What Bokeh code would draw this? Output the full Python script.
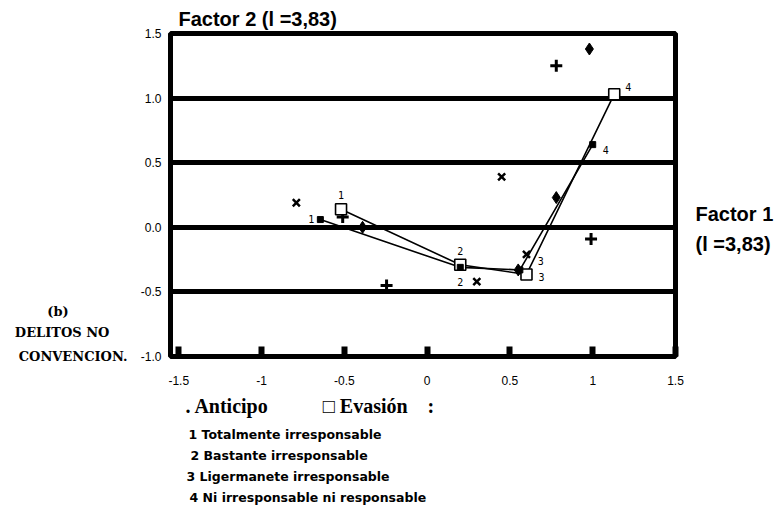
from bokeh.plotting import figure
from bokeh.models import (ColumnDataSource, FixedTicker, Range1d, LinearAxis, Title)
from bokeh.core.properties import value
from bokeh.embed import file_html
from bokeh.resources import INLINE

# ---- data ----
point_labels = ["1", "2", "3", "4"]
evasion_x = [-0.52, 0.20, 0.60, 1.13]
evasion_y = [0.14, -0.29, -0.365, 1.03]
anticipo_x = [-0.645, 0.20, 0.56, 1.00]
anticipo_y = [0.06, -0.31, -0.33, 0.64]
cross_x = [-0.79, 0.45, 0.30, 0.60]
cross_y = [0.19, 0.39, -0.42, -0.21]
plus_x = [0.78, -0.51, -0.245, 0.99]
plus_y = [1.25, 0.08, -0.45, -0.09]
diamond_x = [0.98, 0.78, -0.39, 0.55]
diamond_y = [1.38, 0.23, 0.00, -0.33]
x_ticks = [-1.5, -1.0, -0.5, 0.0, 0.5, 1.0, 1.5]
x_tick_labels = ["-1.5", "-1", "-0.5", "0", "0.5", "1", "1.5"]
y_ticks = [-1.0, -0.5, 0.0, 0.5, 1.0, 1.5]
y_tick_labels = ["-1.0", "-0.5", "0.0", "0.5", "1.0", "1.5"]
grid_values = [-0.5, 0.0, 0.5, 1.0]
title_text = "Factor 2 (l =3,83)"
factor1_lines = ["Factor 1", "(l =3,83)"]
side_lines = ["(b)", "DELITOS NO", "CONVENCION."]
legend_head = [". Anticipo", "\u25a1 Evasi\u00f3n", ":"]
legend_lines = ["1 Totalmente irresponsable",
                "2 Bastante  irresponsable",
                "3  Ligermanete irresponsable",
                "4 Ni irresponsable ni responsable"]

# ---- layout / style ----
ev_dx = [0, 0, 15, 14]
ev_dy = [-14, -14, 3, -7]
an_dx = [-9, 0, 21, 13]
an_dy = [-1, 15, -9, 5]
NB = "\u00a0"

W, H = 784, 508
BL, BR, BT, BB = 170, 109, 33, 152
FB = H - BB
p = figure(width=W, height=H, output_backend="svg", toolbar_location=None,
           x_range=Range1d(-1.55, 1.5), y_range=Range1d(-1.0, 1.5),
           min_border_left=BL, min_border_right=BR,
           min_border_top=BT, min_border_bottom=BB)
p.background_fill_color = "white"
p.border_fill_color = "white"
p.outline_line_color = "black"
p.outline_line_width = 5
# auxiliary range in canvas pixels, used only to place side texts
p.extra_y_ranges = {"px": Range1d(start=FB, end=BT)}

p.title.text = title_text
p.title.align = "left"
p.title.offset = 8
p.title.standoff = 7
p.title.text_font = "Liberation Sans"
p.title.text_font_size = "20px"
p.title.text_font_style = "bold"
p.title.text_color = "black"

p.xgrid.visible = False
p.ygrid.ticker = FixedTicker(ticks=grid_values)
p.ygrid.grid_line_color = "black"
p.ygrid.grid_line_width = 5

xa = p.xaxis[0]
xa.ticker = FixedTicker(ticks=x_ticks)
xa.major_label_overrides = {t: l for t, l in zip(x_ticks, x_tick_labels)}
xa.axis_line_color = None
xa.major_tick_in = 10
xa.major_tick_out = 0
xa.major_tick_line_width = 6
xa.major_tick_line_color = "black"
xa.minor_tick_line_color = None
xa.major_label_standoff = 19
xa.major_label_text_font = "Liberation Sans"
xa.major_label_text_font_size = "12px"
xa.major_label_text_color = "black"

ya = p.yaxis[0]
ya.ticker = FixedTicker(ticks=y_ticks)
ya.major_label_overrides = {t: l for t, l in zip(y_ticks, y_tick_labels)}
ya.axis_line_color = None
ya.major_tick_line_color = None
ya.minor_tick_line_color = None
ya.major_tick_in = 0
ya.major_tick_out = 0
ya.major_label_standoff = 9
ya.major_label_text_font = "Liberation Sans"
ya.major_label_text_font_size = "12px"
ya.major_label_text_color = "black"


def text_axis(ticks, labels, font, size, style, standoff):
    return LinearAxis(y_range_name="px", ticker=FixedTicker(ticks=ticks),
                      major_label_overrides={t: l for t, l in zip(ticks, labels)},
                      axis_line_color=None, major_tick_line_color=None,
                      minor_tick_line_color=None, major_tick_in=0, major_tick_out=0,
                      major_label_standoff=standoff, major_label_text_font=font,
                      major_label_text_font_size=size, major_label_text_font_style=style,
                      major_label_text_color="black")


# Factor 1 on the right
p.add_layout(text_axis([213, 243], factor1_lines, "Liberation Sans", "20px", "bold", 20), "right")
# (b) DELITOS NO CONVENCION. on the left (right-aligned, padded)
side_padded = [side_lines[0] + NB * 13, side_lines[1] + NB * 4, side_lines[2]]
p.add_layout(text_axis([311, 332, FB], side_padded, "DejaVu Serif", "13px", "bold", 10), "left")

ev_src = ColumnDataSource(dict(x=evasion_x, y=evasion_y, t=point_labels, dx=ev_dx, dy=ev_dy))
an_src = ColumnDataSource(dict(x=anticipo_x, y=anticipo_y, t=point_labels, dx=an_dx, dy=an_dy))

p.line("x", "y", source=ev_src, line_color="black", line_width=1.6)
p.line("x", "y", source=an_src, line_color="black", line_width=1.6)

p.scatter(cross_x, cross_y, marker="x", size=10, line_color="black", line_width=2.5)
p.scatter(plus_x, plus_y, marker="cross", size=12, line_color="black", line_width=3)
p.scatter(diamond_x, diamond_y, marker="diamond", size=12, fill_color="black", line_color="black")

p.scatter("x", "y", source=ev_src, marker="square", size=11, fill_color="white",
          line_color="black", line_width=1.6)
p.scatter("x", "y", source=an_src, marker="square", size=6, fill_color="black",
          line_color="black")

for src in (ev_src, an_src):
    p.text("x", "y", text="t", source=src, x_offset="dx", y_offset="dy",
           text_align="center", text_baseline="middle",
           text_font=value("DejaVu Sans Mono"), text_font_size="10px", text_color="black")

# legend rows below the x axis
head = legend_head[0] + NB * 11 + legend_head[1] + NB * 4 + legend_head[2]
p.add_layout(Title(text=head, align="left", offset=15, standoff=11,
                   text_font="Liberation Serif", text_font_size="20px",
                   text_font_style="bold", text_color="black"), "below")
for txt, off in zip(legend_lines, [18, 20, 16, 19]):
    p.add_layout(Title(text=txt, align="left", offset=off, standoff=4,
                       text_font="DejaVu Sans", text_font_size="12.5px",
                       text_font_style="bold", text_color="black"), "below")

open("out.html", "w").write(file_html(p, INLINE))
